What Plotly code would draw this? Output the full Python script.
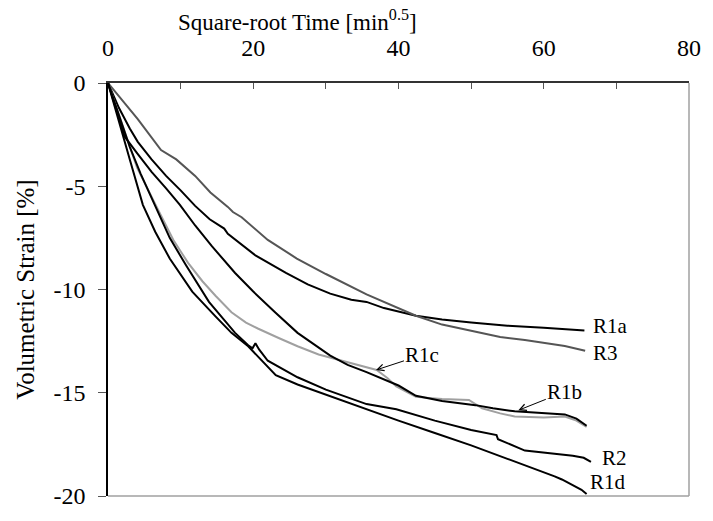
import plotly.graph_objects as go

# ---- data (sqrt-time [min^0.5], volumetric strain [%]) ----
r1a_x = [0, 1.5, 3, 4.1, 6, 8, 10, 12, 14, 16, 16.5, 18.5, 20.3, 24.5, 27.5, 30.6, 33.5, 35.6, 38, 42.4, 46, 50, 55, 60, 63, 65.6]
r1a_y = [0, -1.2, -2.2, -2.85, -3.7, -4.5, -5.2, -5.95, -6.6, -7.05, -7.3, -7.85, -8.35, -9.2, -9.75, -10.2, -10.5, -10.6, -10.9, -11.27, -11.45, -11.6, -11.75, -11.85, -11.92, -11.98]

r3_x = [0, 3, 4.1, 7.3, 9.4, 12, 14.1, 16.5, 17.2, 18.4, 22, 26, 30, 35.6, 38, 42.4, 46, 50, 54, 57.4, 62.9, 65.7]
r3_y = [0, -1.25, -1.75, -3.25, -3.7, -4.5, -5.3, -6.0, -6.25, -6.5, -7.6, -8.5, -9.25, -10.24, -10.6, -11.27, -11.7, -12.0, -12.3, -12.45, -12.74, -12.97]

r1b_x = [0, 1, 2.3, 4, 6, 8, 9.9, 12, 14.3, 17.5, 20, 23, 26.1, 30.6, 33, 35.6, 37, 40, 42.4, 46, 50.6, 53, 56, 60, 62.9, 64.5, 65.9]
r1b_y = [0, -1.1, -2.6, -3.4, -4.3, -5.1, -5.9, -6.9, -7.9, -9.2, -10.1, -11.1, -12.1, -13.2, -13.65, -14.0, -14.2, -14.65, -15.15, -15.4, -15.6, -15.75, -15.9, -16.0, -16.05, -16.25, -16.6]

r1c_x = [0, 2, 4, 6.7, 9, 11, 13, 14.8, 17, 19, 20.7, 23.5, 26.1, 29, 31.6, 35.6, 37, 38.5, 39.7, 42.4, 46, 49.7, 51.5, 54, 56, 60, 62.9, 64.5, 65.9]
r1c_y = [0, -2.1, -4.1, -6.0, -7.6, -8.7, -9.6, -10.3, -11.1, -11.6, -11.9, -12.35, -12.75, -13.15, -13.4, -13.8, -13.9, -14.3, -14.7, -15.2, -15.3, -15.35, -15.75, -16.0, -16.15, -16.2, -16.15, -16.35, -16.65]

r2_x = [0, 1.5, 3, 4.5, 6.3, 8.5, 10.7, 13.9, 17.5, 19.3, 19.9, 20.3, 20.8, 22, 26.1, 30, 35.6, 39.7, 45, 50, 53.5, 53.7, 57.4, 61.5, 64, 65.5, 66.5]
r2_y = [0, -1.6, -3.1, -4.4, -5.8, -7.5, -8.8, -10.6, -12.1, -12.7, -12.85, -12.6, -12.9, -13.45, -14.25, -14.85, -15.55, -15.8, -16.35, -16.8, -17.05, -17.25, -17.8, -17.95, -18.05, -18.15, -18.35]

r1d_x = [0, 1.5, 3, 4.8, 6.5, 8.5, 11.6, 14.8, 17, 19.3, 21.3, 23.1, 26.1, 30, 35.6, 40, 45, 50, 55, 59, 61.5, 62.5, 64.2, 65.2, 65.9]
r1d_y = [0, -1.9, -3.7, -5.9, -7.2, -8.5, -10.1, -11.3, -12.1, -12.75, -13.5, -14.15, -14.6, -15.1, -15.8, -16.35, -16.95, -17.55, -18.2, -18.7, -19.05, -19.2, -19.5, -19.7, -19.9]

y_ticks = [0, -5, -10, -15, -20]
y_tick_text = ["0", "-5", "-10", "-15", "-20"]

FONT = "'Liberation Serif', 'Times New Roman', Times, 'DejaVu Serif', serif"

series = [
    ("R1a", r1a_x, r1a_y, "#000000"),
    ("R3", r3_x, r3_y, "#555555"),
    ("R1c", r1c_x, r1c_y, "#a0a0a0"),
    ("R1b", r1b_x, r1b_y, "#000000"),
    ("R2", r2_x, r2_y, "#000000"),
    ("R1d", r1d_x, r1d_y, "#000000"),
]

fig = go.Figure()
for name, xs, ys, col in series:
    fig.add_trace(go.Scatter(x=xs, y=ys, mode="lines", name=name,
                             line=dict(color=col, width=2), showlegend=False))

# plain curve labels (text, x left, y middle)
labels = [("R1a", 66.5, -11.75), ("R3", 66.5, -13.07), ("R2", 67.8, -18.16), ("R1d", 66.1, -19.3)]
for t, lx, ly in labels:
    fig.add_annotation(x=lx, y=ly, text=t, showarrow=False, xanchor="left", yanchor="middle",
                       font=dict(family=FONT, size=21, color="black"))

# arrowed labels: (text, head x, head y, text-centre x, text-centre y)
arrow_labels = [("R1c", 36.9, -13.9, 43.3, -13.16), ("R1b", 56.5, -15.85, 62.9, -14.95)]
for t, hx, hy, tx, ty in arrow_labels:
    fig.add_annotation(x=hx, y=hy, ax=tx, ay=ty, axref="x", ayref="y", text=t,
                       font=dict(family=FONT, size=21, color="black"),
                       showarrow=True, arrowhead=5, arrowsize=1.3, arrowwidth=1, arrowcolor="black")

# x-axis title at top (offset left as in original)
fig.add_annotation(xref="paper", yref="paper", x=0.327, y=1.0, yshift=63, xanchor="center", yanchor="middle",
                   text="Square-root Time [min<sup>0.5</sup>]", showarrow=False,
                   font=dict(family=FONT, size=23, color="black"))

# grey right and bottom borders
fig.add_shape(type="line", xref="paper", yref="paper", x0=1, x1=1, y0=0, y1=1, line=dict(color="#a0a0a0", width=1.5))
fig.add_shape(type="line", xref="paper", yref="paper", x0=0, x1=1, y0=0, y1=0, line=dict(color="#a0a0a0", width=1.5))

fig.update_layout(
    width=713, height=521,
    margin=dict(l=108, r=18, t=83, b=14),
    paper_bgcolor="white", plot_bgcolor="white",
    font=dict(family=FONT, size=24, color="black"),
    xaxis=dict(side="top", range=[0, 80], tick0=0, dtick=20,
               showgrid=False, zeroline=False, showline=True, linecolor="#333333", linewidth=1.5,
               ticks="inside", ticklen=6, tickcolor="#555555", tickwidth=1,
               minor=dict(dtick=10, ticks="inside", ticklen=6, tickcolor="#555555", tickwidth=1, showgrid=False),
               tickfont=dict(family=FONT, size=24), ticklabelstandoff=16),
    yaxis=dict(range=[-20, 0], tickvals=y_ticks, ticktext=y_tick_text,
               showgrid=False, zeroline=False, showline=True, linecolor="black", linewidth=1.5,
               ticks="outside", ticklen=8, tickcolor="#555555", tickwidth=1,
               tickfont=dict(family=FONT, size=24), ticklabelstandoff=8,
               title=dict(text="Volumetric Strain [%]", font=dict(family=FONT, size=25), standoff=12)),
)

fig.write_html("out.html")
